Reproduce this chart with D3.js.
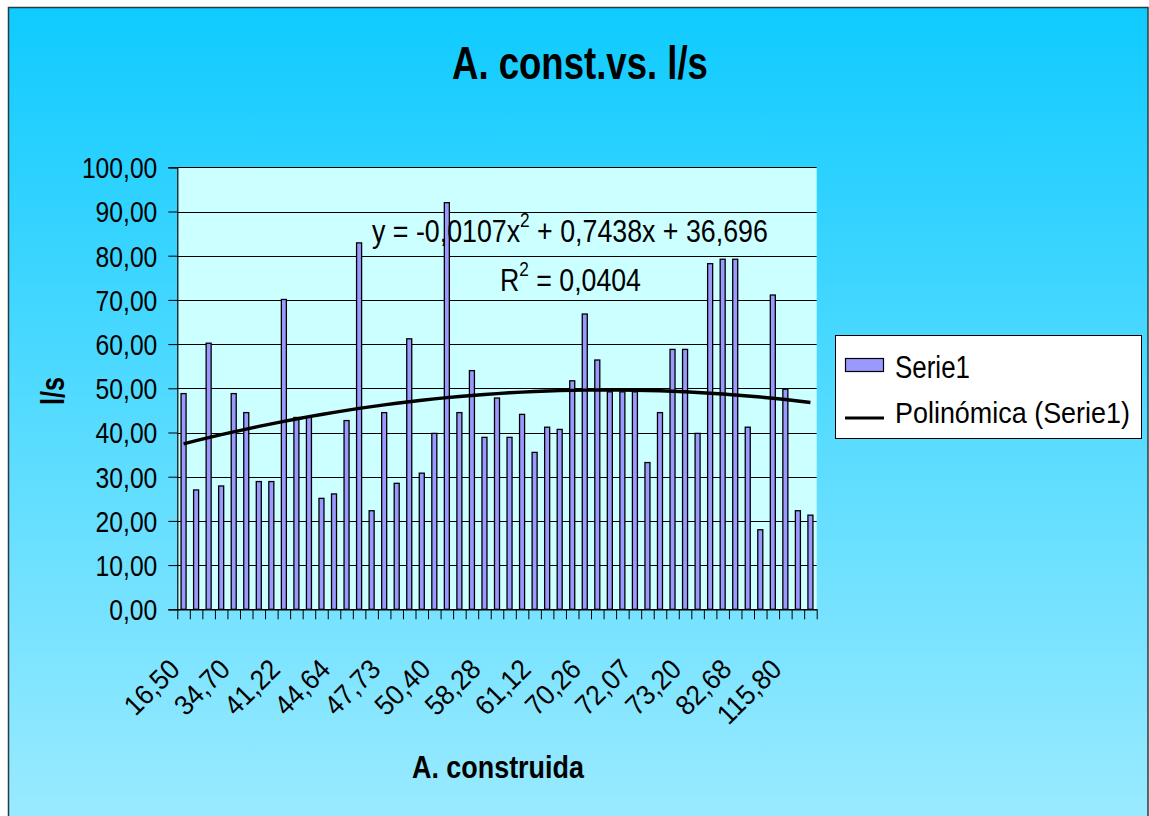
<!DOCTYPE html>
<html>
<head>
<meta charset="utf-8">
<script src="https://cdn.jsdelivr.net/npm/d3@7"></script>
<style>
  html, body { margin: 0; padding: 0; background: #ffffff; }
  svg { display: block; }
</style>
</head>
<body>
<svg id="chart" width="1149" height="816"></svg>
<script>
// Caudal (l/s) por vivienda, ordenado por área construida
const caudal = [
  48.8, 27.0, 60.2, 27.9, 48.8, 44.5, 28.9, 28.9, 70.1, 43.4,
  43.4, 25.1, 26.1, 42.7, 82.9, 22.3, 44.5, 28.5, 61.2, 30.8,
  39.8, 92.0, 44.5, 54.0, 38.9, 47.8, 38.9, 44.1, 35.5, 41.2,
  40.7, 51.7, 66.8, 56.4, 49.2, 49.2, 49.2, 33.2, 44.5, 58.8,
  58.8, 39.8, 78.2, 79.2, 79.2, 41.2, 18.0, 71.1, 49.8, 22.3,
  21.3
];
// Área construida, rotulada cada cuatro categorías
const areaLabels = ["16,50", "34,70", "41,22", "44,64", "47,73", "50,40", "58,28",
                    "61,12", "70,26", "72,07", "73,20", "82,68", "115,80"];
const labelEvery = 4;
const yTickValues = [0, 10, 20, 30, 40, 50, 60, 70, 80, 90, 100];
// Línea de tendencia polinómica de grado 2
const trendCoef = [-0.0107, 0.7438, 36.696];   // a·x² + b·x + c
const trendR2 = 0.0404;
const legendNames = ["Serie1", "Polinómica (Serie1)"];

const FONT = "'Liberation Sans', Arial, sans-serif";
const svg = d3.select("#chart");

const es = d3.formatLocale({ decimal: ",", thousands: ".", grouping: [3], currency: ["", " €"] });
const fmt2 = es.format(".2f");
const comma = v => String(v).replace(".", ",");

// Fondo del gráfico con degradado vertical
const defs = svg.append("defs");
const grad = defs.append("linearGradient").attr("id", "bg")
  .attr("x1", 0).attr("y1", 0).attr("x2", 0).attr("y2", 1);
grad.append("stop").attr("offset", "0%").attr("stop-color", "#0fcbff");
grad.append("stop").attr("offset", "100%").attr("stop-color", "#9debff");

svg.append("rect")
  .attr("x", 8.5).attr("y", 7.5).attr("width", 1139.5).attr("height", 830)
  .attr("fill", "url(#bg)").attr("stroke", "#2b3a40").attr("stroke-width", 1.5);

// Ajusta el ancho de un texto comprimiendo los glifos
function squeeze(sel, k) {
  sel.each(function () {
    const len = this.getComputedTextLength();
    d3.select(this).attr("textLength", len * k).attr("lengthAdjust", "spacingAndGlyphs");
  });
}
// Texto comprimido horizontalmente hasta un ancho dado (mediante escala)
function condensedText(x0, y0, w, size, weight) {
  const g = svg.append("g");
  const t = g.append("text").attr("font-family", FONT).attr("font-size", size)
    .attr("font-weight", weight || "normal").attr("fill", "#000");
  return { g, t, fit() {
    const len = t.node().getComputedTextLength();
    g.attr("transform", `translate(${x0},${y0}) scale(${w / len},1)`);
    return this;
  } };
}

// Área de trazado
const plot = { left: 177.3, right: 816.7, top: 167.3, bottom: 609.3 };

const x = d3.scaleBand()
  .domain(d3.range(caudal.length))
  .range([plot.left, plot.right])
  .paddingInner(0.6)
  .paddingOuter(0.3);
const y = d3.scaleLinear().domain([0, 100]).range([plot.bottom, plot.top]);

svg.append("rect")
  .attr("x", plot.left).attr("y", plot.top)
  .attr("width", plot.right - plot.left).attr("height", plot.bottom - plot.top)
  .attr("fill", "#ccffff");

// Líneas de división
svg.append("g")
  .selectAll("line").data(yTickValues).join("line")
  .attr("x1", plot.left).attr("x2", plot.right)
  .attr("y1", d => Math.round(y(d)) + 0.5).attr("y2", d => Math.round(y(d)) + 0.5)
  .attr("stroke", "#000").attr("stroke-width", 1);

// Barras
svg.append("g")
  .selectAll("rect").data(caudal).join("rect")
  .attr("x", (d, i) => x(i))
  .attr("y", d => y(d))
  .attr("width", x.bandwidth())
  .attr("height", d => y(0) - y(d))
  .attr("fill", "#9999ff")
  .attr("stroke", "#000").attr("stroke-width", 1.3);

// Eje Y
const yAxis = d3.axisLeft(y).tickValues(yTickValues).tickFormat(fmt2).tickSize(9).tickPadding(11);
const gy = svg.append("g").attr("transform", `translate(${plot.left},0)`).call(yAxis);
gy.select(".domain").attr("stroke", "#000").attr("stroke-width", 1.2);
gy.selectAll(".tick line").attr("stroke", "#000");
gy.selectAll(".tick text")
  .attr("font-family", FONT).attr("font-size", 29).attr("fill", "#000")
  .attr("dy", "0.36em").call(squeeze, 0.85);

// Eje X: marcas en los límites de cada categoría
const bounds = d3.range(caudal.length + 1);
const xb = d3.scaleLinear().domain([0, caudal.length]).range([plot.left, plot.right]);
const xAxis = d3.axisBottom(xb).tickValues(bounds).tickFormat("").tickSize(10).tickSizeOuter(0);
const gx = svg.append("g").attr("transform", `translate(0,${plot.bottom})`).call(xAxis);
gx.select(".domain").attr("stroke", "#000").attr("stroke-width", 1.2);
gx.selectAll(".tick line").attr("stroke", "#000");

svg.append("g")
  .selectAll("text").data(areaLabels).join("text")
  .attr("transform", (d, j) => {
    const cx = x(j * labelEvery) + x.bandwidth() / 2 - 2;
    return `translate(${cx},671) rotate(-45)`;
  })
  .attr("text-anchor", "end")
  .attr("font-family", FONT).attr("font-size", 28).attr("fill", "#000")
  .text(d => d).call(squeeze, 0.93);

// Línea de tendencia polinómica
const trendPts = d3.range(1, caudal.length + 1).map(n => [n, trendCoef[0] * n * n + trendCoef[1] * n + trendCoef[2]]);
svg.append("path")
  .datum(trendPts)
  .attr("d", d3.line().x(p => x(p[0] - 1) + x.bandwidth() / 2).y(p => y(p[1])))
  .attr("fill", "none").attr("stroke", "#000").attr("stroke-width", 3.4)
  .attr("stroke-linejoin", "round");

// Ecuación y R²
const eq = condensedText(372, 242, 396, 31);
eq.t.append("tspan").text(`y = ${comma(trendCoef[0])}x`);
eq.t.append("tspan").attr("dy", -15).attr("font-size", 20).text("2");
eq.t.append("tspan").attr("dy", 15).text(` + ${comma(trendCoef[1])}x + ${comma(trendCoef[2])}`);
eq.fit();

const r2 = condensedText(500, 291, 141, 31);
r2.t.append("tspan").text("R");
r2.t.append("tspan").attr("dy", -15).attr("font-size", 20).text("2");
r2.t.append("tspan").attr("dy", 15).text(` = ${comma(trendR2)}`);
r2.fit();

// Título y rótulo del eje X
const title = condensedText(452, 79, 256, 46, "bold");
title.t.text("A. const.vs. l/s");
title.fit();

const xTitle = condensedText(412, 778, 172, 32, "bold");
xTitle.t.text("A. construida");
xTitle.fit();

// Rótulo del eje Y (girado)
const yTitleG = svg.append("g");
const yTitle = yTitleG.append("text")
  .attr("font-family", FONT).attr("font-size", 33).attr("font-weight", "bold").attr("fill", "#000")
  .text("l/s");
const yLen = yTitle.node().getComputedTextLength();
yTitleG.attr("transform", `translate(64,405) rotate(-90) scale(${28 / yLen},1)`);

// Leyenda
const lg = svg.append("g");
lg.append("rect").attr("x", 835.5).attr("y", 335.5).attr("width", 306).attr("height", 103)
  .attr("fill", "#fff").attr("stroke", "#000").attr("stroke-width", 1);
lg.append("rect").attr("x", 845.5).attr("y", 358.5).attr("width", 38).attr("height", 13)
  .attr("fill", "#9999ff").attr("stroke", "#000").attr("stroke-width", 1.2);
lg.append("line").attr("x1", 845).attr("x2", 884).attr("y1", 418).attr("y2", 418)
  .attr("stroke", "#000").attr("stroke-width", 3.2);
const lg1 = condensedText(895, 378, 75, 31);
lg1.t.text(legendNames[0]);
lg1.fit();
const lg2 = condensedText(895, 423, 235, 30);
lg2.t.text(legendNames[1]);
lg2.fit();
</script>
</body>
</html>
